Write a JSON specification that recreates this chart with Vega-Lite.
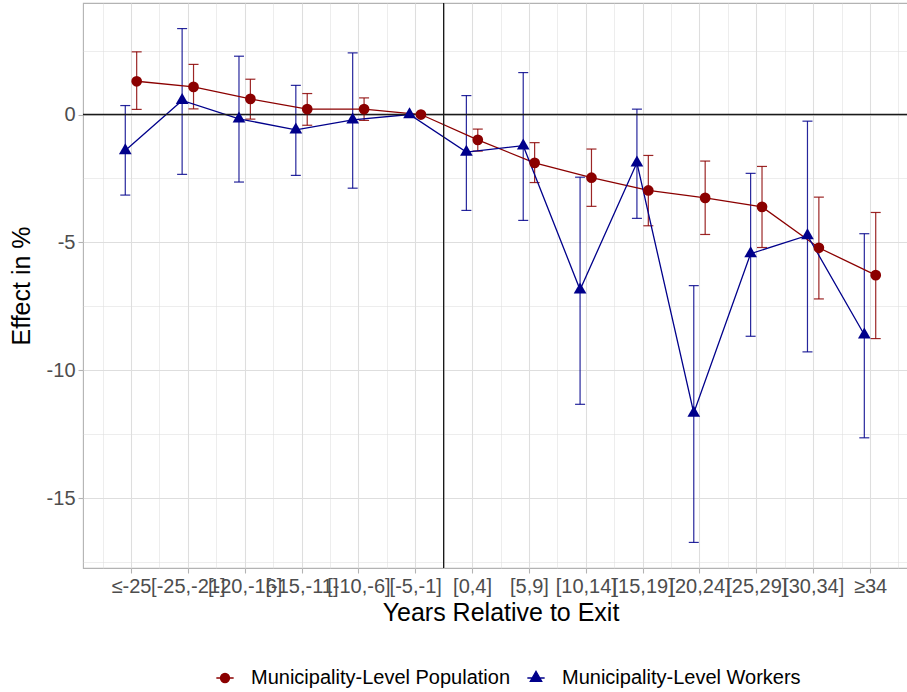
{
  "$schema": "https://vega.github.io/schema/vega-lite/v6.json",
  "width": 835,
  "height": 565,
  "autosize": {"type": "none"},
  "padding": {"left": 83, "top": 3, "right": 0, "bottom": 124},
  "background": "white",
  "datasets": {
    "est": [
      {"period": "≤-25", "order": 0, "series": "Municipality-Level Population", "est": 1.3, "lo": 0.2, "hi": 2.45},
      {"period": "[-25,-21]", "order": 1, "series": "Municipality-Level Population", "est": 1.08, "lo": 0.22, "hi": 1.96},
      {"period": "[-20,-16]", "order": 2, "series": "Municipality-Level Population", "est": 0.61, "lo": -0.18, "hi": 1.38},
      {"period": "[-15,-11]", "order": 3, "series": "Municipality-Level Population", "est": 0.21, "lo": -0.42, "hi": 0.82},
      {"period": "[-10,-6]", "order": 4, "series": "Municipality-Level Population", "est": 0.21, "lo": -0.23, "hi": 0.65},
      {"period": "[-5,-1]", "order": 5, "series": "Municipality-Level Population", "est": 0, "lo": null, "hi": null},
      {"period": "[0,4]", "order": 6, "series": "Municipality-Level Population", "est": -0.99, "lo": -1.43, "hi": -0.57},
      {"period": "[5,9]", "order": 7, "series": "Municipality-Level Population", "est": -1.89, "lo": -2.66, "hi": -1.1},
      {"period": "[10,14]", "order": 8, "series": "Municipality-Level Population", "est": -2.47, "lo": -3.59, "hi": -1.35},
      {"period": "[15,19]", "order": 9, "series": "Municipality-Level Population", "est": -2.97, "lo": -4.35, "hi": -1.6},
      {"period": "[20,24]", "order": 10, "series": "Municipality-Level Population", "est": -3.26, "lo": -4.69, "hi": -1.82},
      {"period": "[25,29]", "order": 11, "series": "Municipality-Level Population", "est": -3.61, "lo": -5.2, "hi": -2.03},
      {"period": "[30,34]", "order": 12, "series": "Municipality-Level Population", "est": -5.21, "lo": -7.21, "hi": -3.23},
      {"period": "≥34", "order": 13, "series": "Municipality-Level Population", "est": -6.28, "lo": -8.76, "hi": -3.83},
      {"period": "≤-25", "order": 0, "series": "Municipality-Level Workers", "est": -1.41, "lo": -3.15, "hi": 0.35},
      {"period": "[-25,-21]", "order": 1, "series": "Municipality-Level Workers", "est": 0.55, "lo": -2.34, "hi": 3.36},
      {"period": "[-20,-16]", "order": 2, "series": "Municipality-Level Workers", "est": -0.17, "lo": -2.64, "hi": 2.28},
      {"period": "[-15,-11]", "order": 3, "series": "Municipality-Level Workers", "est": -0.6, "lo": -2.38, "hi": 1.14},
      {"period": "[-10,-6]", "order": 4, "series": "Municipality-Level Workers", "est": -0.21, "lo": -2.88, "hi": 2.41},
      {"period": "[-5,-1]", "order": 5, "series": "Municipality-Level Workers", "est": 0, "lo": null, "hi": null},
      {"period": "[0,4]", "order": 6, "series": "Municipality-Level Workers", "est": -1.47, "lo": -3.75, "hi": 0.74},
      {"period": "[5,9]", "order": 7, "series": "Municipality-Level Workers", "est": -1.22, "lo": -4.14, "hi": 1.64},
      {"period": "[10,14]", "order": 8, "series": "Municipality-Level Workers", "est": -6.85, "lo": -11.33, "hi": -2.45},
      {"period": "[15,19]", "order": 9, "series": "Municipality-Level Workers", "est": -1.89, "lo": -4.06, "hi": 0.21},
      {"period": "[20,24]", "order": 10, "series": "Municipality-Level Workers", "est": -11.67, "lo": -16.73, "hi": -6.69},
      {"period": "[25,29]", "order": 11, "series": "Municipality-Level Workers", "est": -5.44, "lo": -8.67, "hi": -2.3},
      {"period": "[30,34]", "order": 12, "series": "Municipality-Level Workers", "est": -4.73, "lo": -9.28, "hi": -0.26},
      {"period": "≥34", "order": 13, "series": "Municipality-Level Workers", "est": -8.61, "lo": -12.64, "hi": -4.66}
    ]
  },
  "data": {"name": "est"},
  "config": {
    "font": "Liberation Sans",
    "view": {"stroke": "#B3B3B3", "strokeWidth": 1.1},
    "axis": {
      "domain": false,
      "gridColor": "#DEDEDE",
      "tickColor": "#B3B3B3",
      "tickSize": 5,
      "tickWidth": 1.1,
      "labelColor": "#4D4D4D",
      "labelFont": "Liberation Sans",
      "labelFontSize": 20,
      "labelPadding": 3,
      "labelOverlap": false,
      "labelFlush": false,
      "labelBound": false,
      "titleFont": "Liberation Sans",
      "titleFontSize": 25,
      "titleFontWeight": "normal",
      "titleColor": "black"
    },
    "legend": {
      "orient": "none",
      "legendX": 132,
      "legendY": 665,
      "direction": "horizontal",
      "padding": 0,
      "symbolSize": 300,
      "symbolStrokeWidth": 1.3,
      "labelFont": "Liberation Sans",
      "labelFontSize": 20,
      "labelColor": "black",
      "labelLimit": 400,
      "labelOffset": 16,
      "columnPadding": 13,
      "title": null
    }
  },
  "encoding": {
    "x": {
      "field": "order",
      "type": "quantitative",
      "scale": {"domain": [-0.844, 13.844], "nice": false, "zero": false},
      "axis": {
        "title": "Years Relative to Exit",
        "titlePadding": 4,
        "values": [-0.5, 0, 0.5, 1, 1.5, 2, 2.5, 3, 3.5, 4, 4.5, 5, 5.5, 6, 6.5, 7, 7.5, 8, 8.5, 9, 9.5, 10, 10.5, 11, 11.5, 12, 12.5, 13, 13.5],
        "labelExpr": "datum.value % 1 === 0 ? ['≤-25','[-25,-21]','[-20,-16]','[-15,-11]','[-10,-6]','[-5,-1]','[0,4]','[5,9]','[10,14]','[15,19]','[20,24]','[25,29]','[30,34]','≥34'][datum.value] : ''",
        "gridWidth": {"condition": {"test": "datum.value % 1 !== 0", "value": 0.55}, "value": 1.1},
        "tickOpacity": {"condition": {"test": "datum.value % 1 !== 0", "value": 0}, "value": 1}
      }
    },
    "y": {
      "field": "est",
      "type": "quantitative",
      "scale": {"domain": [-17.73, 4.36], "nice": false, "zero": false},
      "axis": {
        "title": "Effect in %",
        "titlePadding": 12,
        "values": [-17.5, -15, -12.5, -10, -7.5, -5, -2.5, 0, 2.5],
        "labelExpr": "datum.value % 5 === 0 ? '' + datum.value : ''",
        "gridWidth": {"condition": {"test": "datum.value % 5 !== 0", "value": 0.55}, "value": 1.1},
        "tickOpacity": {"condition": {"test": "datum.value % 5 !== 0", "value": 0}, "value": 1}
      }
    }
  },
  "layer": [
    {
      "transform": [{"filter": "isValid(datum.lo)"}],
      "mark": {"type": "rule", "strokeWidth": 1.2, "opacity": 0.85, "xOffset": {"expr": "datum.series === 'Municipality-Level Population' ? 5.7 : -5.7"}},
      "encoding": {
        "y": {"field": "lo", "type": "quantitative"},
        "y2": {"field": "hi"},
        "color": {"field": "series", "type": "nominal", "scale": {"range": ["#8B0000", "#00008B"]}, "legend": null}
      }
    },
    {
      "transform": [{"filter": "isValid(datum.lo)"}],
      "mark": {"type": "tick", "orient": "horizontal", "size": 10, "thickness": 1.2, "opacity": 0.85, "xOffset": {"expr": "datum.series === 'Municipality-Level Population' ? 5.7 : -5.7"}},
      "encoding": {
        "y": {"field": "lo", "type": "quantitative"},
        "color": {"field": "series", "type": "nominal", "legend": null}
      }
    },
    {
      "transform": [{"filter": "isValid(datum.hi)"}],
      "mark": {"type": "tick", "orient": "horizontal", "size": 10, "thickness": 1.2, "opacity": 0.85, "xOffset": {"expr": "datum.series === 'Municipality-Level Population' ? 5.7 : -5.7"}},
      "encoding": {
        "y": {"field": "hi", "type": "quantitative"},
        "color": {"field": "series", "type": "nominal", "legend": null}
      }
    },
    {
      "mark": {"type": "line", "strokeWidth": 1.3, "xOffset": {"expr": "datum.series === 'Municipality-Level Population' ? 5.7 : -5.7"}},
      "encoding": {
        "color": {"field": "series", "type": "nominal", "legend": null}
      }
    },
    {
      "data": {"values": [{"ref": 0}]},
      "mark": {"type": "rule", "color": "#1A1A1A", "strokeWidth": 1.3},
      "encoding": {"x": null, "y": {"field": "ref", "type": "quantitative"}}
    },
    {
      "data": {"values": [{"cut": 5.5}]},
      "mark": {"type": "rule", "color": "#1A1A1A", "strokeWidth": 1.3},
      "encoding": {"x": {"field": "cut", "type": "quantitative"}, "y": null}
    },
    {
      "transform": [{"filter": "datum.series === 'Municipality-Level Population'"}],
      "mark": {"type": "point", "shape": "circle", "size": 115, "filled": true, "opacity": 1, "strokeWidth": 0, "xOffset": 5.7},
      "encoding": {
        "color": {"field": "series", "type": "nominal", "legend": null}
      }
    },
    {
      "transform": [{"filter": "datum.series === 'Municipality-Level Workers'"}],
      "mark": {"type": "point", "shape": "M0,-1.155L1,0.577L-1,0.577Z", "size": 161, "filled": true, "opacity": 1, "strokeWidth": 0, "xOffset": -5.7},
      "encoding": {
        "color": {"field": "series", "type": "nominal", "legend": null}
      }
    },
    {
      "transform": [{"filter": "false"}],
      "mark": {"type": "point", "filled": true, "opacity": 1},
      "encoding": {
        "fill": {"field": "series", "type": "nominal", "scale": {"domain": ["Municipality-Level Population", "Municipality-Level Workers"], "range": ["#8B0000", "#00008B"]}, "legend": {"title": null}},
        "stroke": {"field": "series", "type": "nominal", "scale": {"domain": ["Municipality-Level Population", "Municipality-Level Workers"], "range": ["#8B0000", "#00008B"]}, "legend": {"title": null}},
        "shape": {"field": "series", "type": "nominal", "scale": {"domain": ["Municipality-Level Population", "Municipality-Level Workers"], "range": ["M-1,0L1,0M0.52,0A0.52,0.52,0,1,1,-0.52,0A0.52,0.52,0,1,1,0.52,0Z", "M-1,0L1,0M0,-0.76L0.66,0.38L-0.66,0.38Z"]}, "legend": {"title": null}}
      }
    }
  ]
}
